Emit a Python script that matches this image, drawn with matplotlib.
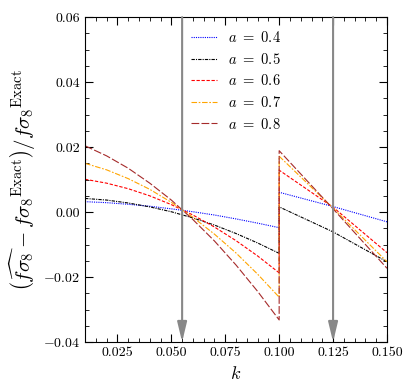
import numpy as np
import matplotlib
matplotlib.use("Agg")
import matplotlib.pyplot as plt

plt.rcParams['font.family'] = 'serif'
plt.rcParams['font.serif'] = ['cmr10']
plt.rcParams['mathtext.fontset'] = 'cm'
plt.rcParams['axes.formatter.use_mathtext'] = True

# k grid, low-k branch and high-k branch (jump at k = 0.1)
k_low = [0.01, 0.02, 0.03, 0.04, 0.05, 0.06, 0.07, 0.08, 0.09, 0.10]
k_high = [0.10, 0.125, 0.15]

a_vals = [0.4, 0.5, 0.6, 0.7, 0.8]

err_low = {
    0.4: [0.0032, 0.0029, 0.0024, 0.0018, 0.0010, 0.0001, -0.0009, -0.0021, -0.0034, -0.0048],
    0.5: [0.0042, 0.0037, 0.0028, 0.0016, 0.0001, -0.0018, -0.0040, -0.0066, -0.0095, -0.0127],
    0.6: [0.0101, 0.0089, 0.0072, 0.0050, 0.0023, -0.0009, -0.0046, -0.0088, -0.0135, -0.0187],
    0.7: [0.0150, 0.0130, 0.0103, 0.0070, 0.0030, -0.0016, -0.0068, -0.0126, -0.0191, -0.0262],
    0.8: [0.0204, 0.0173, 0.0135, 0.0089, 0.0037, -0.0023, -0.0089, -0.0163, -0.0244, -0.0332],
}
err_high = {
    0.4: [0.0061, 0.0017, -0.0030],
    0.5: [0.0016, -0.0061, -0.0153],
    0.6: [0.0129, 0.0015, -0.0125],
    0.7: [0.0172, 0.0012, -0.0153],
    0.8: [0.0189, 0.0010, -0.0173],
}

arrow_k = [0.055, 0.125]

colors = {0.4: 'blue', 0.5: 'black', 0.6: 'red', 0.7: 'orange', 0.8: 'brown'}
styles = {0.4: (0, (1, 1)), 0.5: (0, (3, 1, 1, 1)), 0.6: (0, (3, 1.5)),
          0.7: (0, (5, 1.5, 1.5, 1.5)), 0.8: (0, (7, 2))}

fig = plt.figure(figsize=(4.15, 3.9), dpi=100)
ax = fig.add_axes([0.205, 0.123, 0.7275, 0.833])

for a in a_vals:
    k = k_low + k_high
    y = err_low[a] + err_high[a]
    ax.plot(k, y, color=colors[a], ls=styles[a], lw=0.8, label=r'$a\ =\ %.1f$' % a)

for ka in arrow_k:
    ax.annotate('', xy=(ka, -0.04), xytext=(ka, 0.06),
                arrowprops=dict(arrowstyle='-|>,head_length=0.75,head_width=0.18',
                                color='#888888', lw=1.5, shrinkA=0, shrinkB=0,
                                mutation_scale=16))

ax.set_xlim(0.01, 0.15)
ax.set_ylim(-0.04, 0.06)
ax.set_xticks([0.025, 0.05, 0.075, 0.1, 0.125, 0.15])
ax.set_xticklabels(['0.025', '0.050', '0.075', '0.100', '0.125', '0.150'])
ax.set_yticks([-0.04, -0.02, 0.0, 0.02, 0.04, 0.06])
ax.set_yticklabels([r'$-0.04$', r'$-0.02$', '0.00', '0.02', '0.04', '0.06'])
ax.set_xticks(np.arange(0.01, 0.1501, 0.005), minor=True)
ax.set_yticks(np.arange(-0.04, 0.0601, 0.005), minor=True)
ax.tick_params(which='both', direction='in', top=True, right=True, labelsize=10)
ax.tick_params(which='major', length=6)
ax.tick_params(which='minor', length=3)

ax.set_xlabel(r'$k$', fontsize=13)
ax.set_ylabel(r'$\left(\widehat{f\sigma_8} - {f\sigma_8}^{\rm Exact}\right)/{f\sigma_8}^{\rm Exact}$',
              fontsize=15)

ax.legend(loc='upper center', frameon=False, fontsize=10.5, handlelength=1.8,
          bbox_to_anchor=(0.5, 1.0), labelspacing=0.45)

fig.savefig('out.png', dpi=100)
